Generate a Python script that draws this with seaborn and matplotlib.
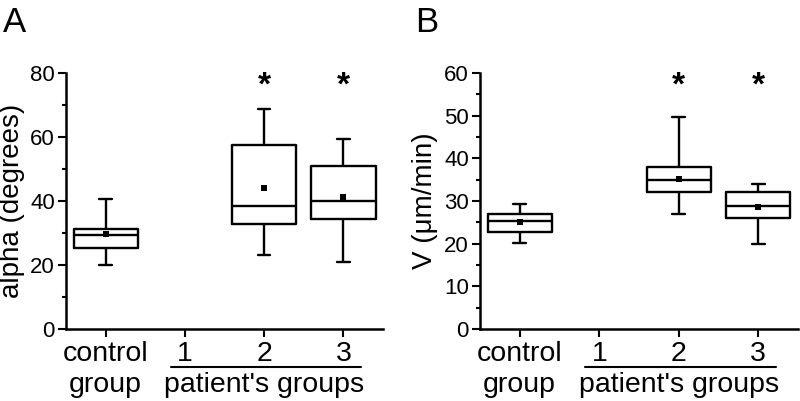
import numpy as np
import pandas as pd
import matplotlib.pyplot as plt
import matplotlib.transforms as mtransforms
from matplotlib.ticker import MultipleLocator
import seaborn as sns

# === Data ===
order = ["control", "1", "2", "3"]

# Panel A: alpha (degrees); group "1" has no data
alpha_groups = ["control", "2", "3"]
alpha_low = [20.0, 23.1, 20.9]
alpha_q1 = [25.3, 32.8, 34.4]
alpha_median = [29.3, 38.3, 40.1]
alpha_q3 = [31.4, 57.4, 50.9]
alpha_high = [40.6, 68.6, 59.3]
alpha_mean = [29.6, 44.0, 41.1]
alpha_signif = ["2", "3"]

# Panel B: V (um/min)
v_groups = ["control", "2", "3"]
v_low = [20.1, 26.9, 20.0]
v_q1 = [22.8, 32.0, 26.0]
v_median = [25.4, 34.9, 28.9]
v_q3 = [27.0, 37.9, 32.0]
v_high = [29.2, 49.8, 34.0]
v_mean = [25.0, 35.2, 28.7]
v_signif = ["2", "3"]


def summary_table(groups, low, q1, med, q3, high):
    # five summary values per group -> quartiles come out exactly, whiskers = min/max
    rows = []
    for i, g in enumerate(groups):
        for val in (low[i], q1[i], med[i], q3[i], high[i]):
            rows.append({"group": g, "value": val})
    return pd.DataFrame(rows)


def draw_panel(ax, df, groups, means, signif, ymax, major, minor, ylabel, star_y):
    sns.boxplot(data=df, x="group", y="value", order=order, ax=ax,
                fill=False, color="black", linewidth=1.7, width=0.81,
                whis=(0, 100), showfliers=False, capwidths=0.16)
    sns.stripplot(x=groups, y=means, order=order, ax=ax, jitter=False,
                  marker="s", color="black", size=4, linewidth=0, zorder=5)
    for g in signif:
        ax.text(order.index(g), star_y, "*", ha="center", va="center",
                fontsize=24, fontweight="bold")

    ax.set_xlim(-0.5, 3.5)
    ax.set_ylim(0, ymax)
    ax.yaxis.set_major_locator(MultipleLocator(major))
    ax.yaxis.set_minor_locator(MultipleLocator(minor))
    ax.set_xticks(range(len(order)))
    ax.set_xticklabels(order)
    ax.set_xlabel("")
    ax.set_ylabel(ylabel, fontsize=20, labelpad=4)
    ax.tick_params(axis="x", labelsize=20.5, length=6, width=1.5, direction="out", pad=3)
    ax.tick_params(axis="y", labelsize=16, length=6, width=1.5, direction="out", pad=2)
    ax.tick_params(axis="y", which="minor", length=3, width=1.5, direction="out")
    for side in ("left", "bottom"):
        ax.spines[side].set_linewidth(1.8)
    sns.despine(ax=ax)

    # second row of x labels and the bracket line under the patient groups
    trans = mtransforms.blended_transform_factory(ax.transData, ax.transAxes)
    ax.text(0, -0.22, "group", transform=trans, ha="center", va="center", fontsize=20.5)
    ax.text(2.0, -0.22, "patient's groups", transform=trans, ha="center",
            va="center", fontsize=20.5)
    ax.plot([0.82, 3.22], [-0.148, -0.148], transform=trans, color="black",
            linewidth=1.5, clip_on=False)


sns.set_style("ticks")
plt.rcParams["font.family"] = ["Liberation Sans", "DejaVu Sans"]
plt.rcParams.update({
    "text.color": "black",
    "axes.labelcolor": "black",
    "axes.edgecolor": "black",
    "xtick.color": "black",
    "ytick.color": "black",
})

fig = plt.figure(figsize=(8.0, 4.01), dpi=100)
ax_a = fig.add_axes([0.0825, 0.1796, 0.3963, 0.6384])
ax_b = fig.add_axes([0.600, 0.1796, 0.3975, 0.6384])

df_a = summary_table(alpha_groups, alpha_low, alpha_q1, alpha_median, alpha_q3, alpha_high)
df_b = summary_table(v_groups, v_low, v_q1, v_median, v_q3, v_high)

draw_panel(ax_a, df_a, alpha_groups, alpha_mean, alpha_signif, 80, 20, 10,
           "alpha (degrees)", 75.8)
draw_panel(ax_b, df_b, v_groups, v_mean, v_signif, 60, 10, 5,
           "V (\u03bcm/min)", 56.9)

fig.text(0.004, 0.985, "A", fontsize=25, ha="left", va="top")
fig.text(0.519, 0.985, "B", fontsize=25, ha="left", va="top")

fig.savefig("out.png", dpi=100)
